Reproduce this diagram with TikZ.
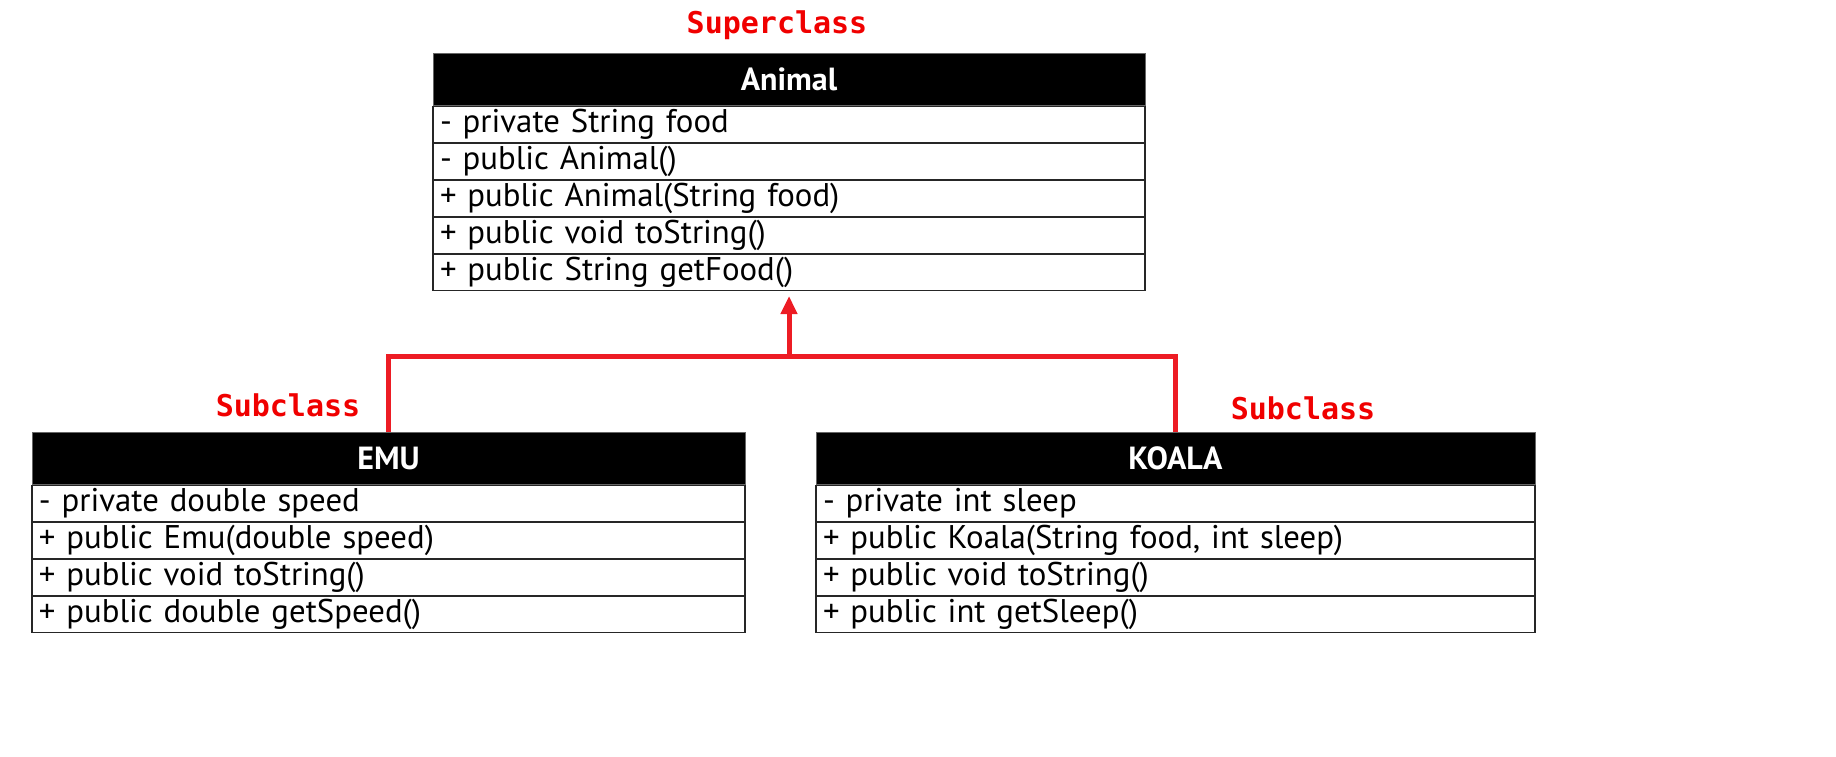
\documentclass[tikz,border=0pt]{standalone}
\usepackage{fontspec}
\setmainfont{PT Sans}
\setmonofont{DejaVu Sans Mono}
\usetikzlibrary{positioning,arrows.meta}
\definecolor{inhred}{RGB}{237,28,36}
\definecolor{tagred}{RGB}{240,0,0}

\begin{document}
\begin{tikzpicture}[x=0.5pt, y=-0.5pt, node distance=0pt, >={Triangle[width=8pt,length=9pt]},
  head/.style={fill=black, draw=black!60, line width=0.5pt, text=white,
    font=\fontsize{16}{17}\selectfont\bfseries, minimum height=26pt, inner sep=0pt, anchor=north},
  member/.style={draw=black!85, line width=0.7pt, font=\fontsize{16.4}{17}\selectfont,
    minimum height=17.8pt, inner ysep=0pt, inner xsep=3.5pt, align=left, text width=#1},
  tag/.style={text=tagred, font=\ttfamily\bfseries\fontsize{15}{16}\selectfont},
  inh/.style={draw=inhred, line width=2.5pt}]

\useasboundingbox (0,0) rectangle (1836,756);

% superclass
\node[head, minimum width=356pt] at (789,53) (animal) {Animal};
\node[member=349pt, below=of animal] (animal1) {- private String food};
\node[member=349pt, below=of animal1] (animal2) {- public Animal()};
\node[member=349pt, below=of animal2] (animal3) {+ public Animal(String food)};
\node[member=349pt, below=of animal3] (animal4) {+ public void toString()};
\node[member=349pt, below=of animal4] (animal5) {+ public String getFood()};

% subclasses
\node[head, minimum width=356.5pt] at (388.5,432) (emu) {EMU};
\node[member=349.5pt, below=of emu] (emu1) {- private double speed};
\node[member=349.5pt, below=of emu1] (emu2) {+ public Emu(double speed)};
\node[member=349.5pt, below=of emu2] (emu3) {+ public void toString()};
\node[member=349.5pt, below=of emu3] (emu4) {+ public double getSpeed()};

\node[head, minimum width=359.5pt] at (1175.5,432) (koala) {KOALA};
\node[member=352.5pt, below=of koala] (koala1) {- private int sleep};
\node[member=352.5pt, below=of koala1] (koala2) {+ public Koala(String food, int sleep)};
\node[member=352.5pt, below=of koala2] (koala3) {+ public void toString()};
\node[member=352.5pt, below=of koala3] (koala4) {+ public int getSleep()};

% labels
\node[tag] at (777,25) (supertag) {Superclass};
\node[tag] at (288,405) (emutag) {Subclass};
\node[tag] at (1303,408) (koalatag) {Subclass};

% inheritance
\coordinate (join) at (789,356);
\draw[inh] (emu.north) |- (join) -| (koala.north);
\draw[inh, ->, shorten >=2.5pt] (join) -- (animal5.south);
\end{tikzpicture}
\end{document}
